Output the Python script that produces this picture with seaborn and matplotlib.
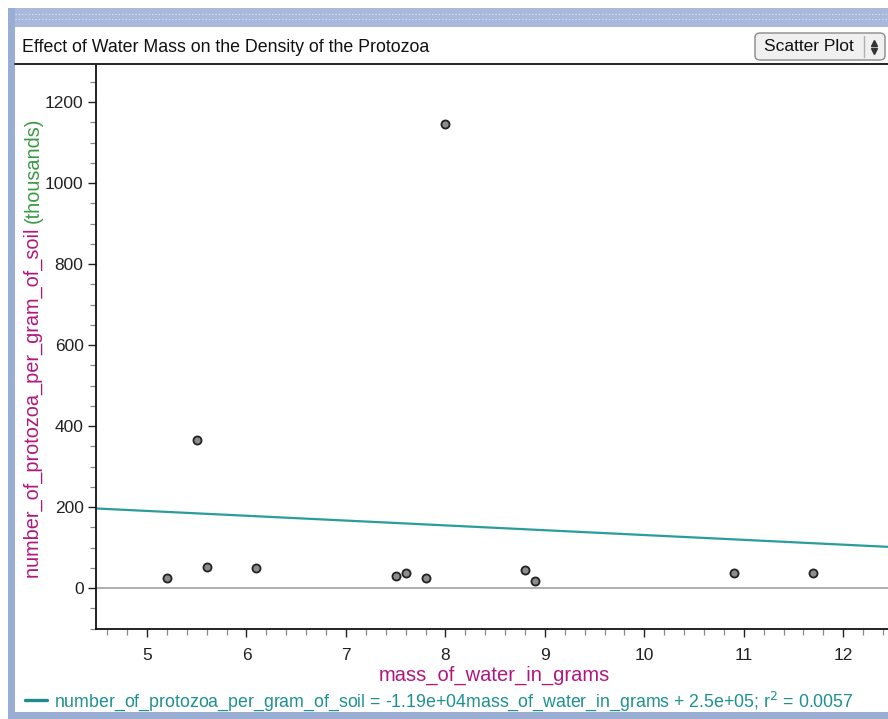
import numpy as np
import pandas as pd
import matplotlib
matplotlib.use("Agg")
import matplotlib.pyplot as plt
import matplotlib.patches as mpatches
from matplotlib.ticker import MultipleLocator
import seaborn as sns

# data (protozoa in thousands)
mass_of_water = [5.2, 5.5, 5.6, 6.1, 7.5, 7.6, 7.8, 8.0, 8.8, 8.9, 10.9, 11.7]
protozoa_k = [25, 365, 52, 49, 30, 37, 25, 1146, 44, 17, 37, 37]

# least squares line as printed in the legend (in thousands)
slope_k = -11.9
intercept_k = 250.0
x_range = [4.487, 12.45]

df = pd.DataFrame({"mass_of_water_in_grams": mass_of_water,
                   "protozoa": protozoa_k})

sns.set_theme(style="white")
plt.rcParams["font.family"] = ["Liberation Sans", "DejaVu Sans"]

fig = plt.figure(figsize=(8.88, 7.19), dpi=100)
W, H = 888, 719

def px_rect(x0, y0, x1, y1, **kw):
    # rectangle in pixel coords (top-left origin)
    fig.patches.append(mpatches.Rectangle((x0 / W, 1 - y1 / H), (x1 - x0) / W, (y1 - y0) / H,
                                          transform=fig.transFigure, **kw))

# window frame
px_rect(8, 8, 888, 27, facecolor="#a9b9dc", edgecolor="none", zorder=0)
px_rect(8, 8, 15, 719, facecolor="#9aaed4", edgecolor="none", zorder=0)
px_rect(8, 712, 888, 719, facecolor="#9aaed4", edgecolor="none", zorder=0)
# dotted texture on top strip
for yy in (14, 19):
    fig.lines.append(plt.Line2D([15 / W, 1], [1 - yy / H] * 2, transform=fig.transFigure,
                                color="#dfe6f4", lw=0.8, ls=(0, (1, 2))))
# line under title
fig.lines.append(plt.Line2D([15 / W, 1], [1 - 63.5 / H] * 2, transform=fig.transFigure,
                            color="#222222", lw=1.4))

fig.text(22 / W, 1 - 48 / H, "Effect of Water Mass on the Density of the Protozoa",
         fontsize=12.8, color="#111111", va="center", ha="left")

# "Scatter Plot" button
btn = mpatches.FancyBboxPatch((755 / W, 1 - 60 / H), 130 / W, 27 / H,
                              boxstyle="round,pad=0,rounding_size=0.006",
                              transform=fig.transFigure, facecolor="#f0f0f0",
                              edgecolor="#8a8a8a", lw=1)
fig.patches.append(btn)
fig.lines.append(plt.Line2D([864 / W] * 2, [1 - 36 / H, 1 - 57 / H], transform=fig.transFigure,
                            color="#b0b0b0", lw=1))
fig.text(809 / W, 1 - 46.5 / H, "Scatter Plot", fontsize=12.5, color="#111111",
         ha="center", va="center")
fig.lines.append(plt.Line2D([874 / W], [1 - 43 / H], transform=fig.transFigure,
                            marker="^", ms=4.5, color="#333333", ls="none"))
fig.lines.append(plt.Line2D([874 / W], [1 - 51 / H], transform=fig.transFigure,
                            marker="v", ms=4.5, color="#333333", ls="none"))

ax = fig.add_axes([96 / W, 1 - 629 / H, (888 - 96) / W, (629 - 64) / H])
ax.set_xlim(x_range[0], x_range[1])
ax.set_ylim(-101, 1294)

ax.axhline(0, color="#a8a8a8", lw=1.3, zorder=1)

line_df = pd.DataFrame({"x": x_range,
                        "y": [slope_k * v + intercept_k for v in x_range]})
sns.lineplot(data=line_df, x="x", y="y", ax=ax, color="#2a9d9a", lw=1.6, zorder=2)

sns.scatterplot(data=df, x="mass_of_water_in_grams", y="protozoa", ax=ax,
                s=34, color="#8c8c8c", edgecolor="#222222", linewidth=1.3, zorder=3)

for side in ("top", "right"):
    ax.spines[side].set_visible(False)
for side in ("left", "bottom"):
    ax.spines[side].set_color("#111111")
    ax.spines[side].set_linewidth(1.3)

ax.xaxis.set_major_locator(MultipleLocator(1))
ax.xaxis.set_minor_locator(MultipleLocator(0.2))
ax.yaxis.set_major_locator(MultipleLocator(200))
ax.yaxis.set_minor_locator(MultipleLocator(50))
ax.tick_params(axis="both", which="major", direction="out", length=6, width=1,
               color="#222222", labelsize=12.5, labelcolor="#222222",
               bottom=True, left=True, pad=3)
ax.tick_params(axis="both", which="minor", direction="out", length=4, width=0.9,
               color="#888888", bottom=True, left=True)
ax.tick_params(axis="x", pad=8)

ax.set_xlabel("")
ax.set_ylabel("")
fig.text(494 / W, 1 - 675 / H, "mass_of_water_in_grams", fontsize=14.5,
         color="#b0177e", ha="center", va="center")

# y label in two colours
t1 = fig.text(33 / W, 1 - 578 / H, "number_of_protozoa_per_gram_of_soil ",
              fontsize=14.3, color="#b0177e", rotation=90, ha="center", va="bottom")
fig.canvas.draw()
bb = t1.get_window_extent()
fig.text(33 / W, bb.y1 / fig.bbox.height, "(thousands)", fontsize=14.3,
         color="#3a9a45", rotation=90, ha="center", va="bottom")

# legend line at the bottom
fig.lines.append(plt.Line2D([25 / W, 47 / W], [1 - 700 / H] * 2, transform=fig.transFigure,
                            color="#1e8c8c", lw=2.4))
fig.text(54 / W, 1 - 701 / H,
         "number_of_protozoa_per_gram_of_soil = -1.19e+04mass_of_water_in_grams + 2.5e+05; r$^2$ = 0.0057",
         fontsize=12.8, color="#1e9090", ha="left", va="center")

fig.savefig("out.png", dpi=100)
